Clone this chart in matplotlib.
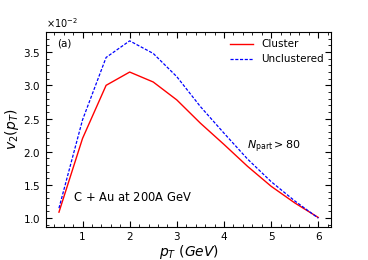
import matplotlib
matplotlib.use("Agg")
import matplotlib.pyplot as plt
from matplotlib.ticker import MultipleLocator, ScalarFormatter

pt = [0.5, 1.0, 1.5, 2.0, 2.5, 3.0, 3.5, 4.0, 4.5, 5.0, 5.5, 6.0]
v2_cluster = [1.09, 2.20, 3.00, 3.20, 3.05, 2.78, 2.43, 2.11, 1.78, 1.48, 1.23, 1.01]
v2_uncl = [1.15, 2.48, 3.42, 3.67, 3.48, 3.13, 2.68, 2.28, 1.89, 1.55, 1.26, 1.00]
scale = 1e-2

fig = plt.figure(figsize=(3.68, 2.60), dpi=100)
ax = fig.add_axes([0.125, 0.127, 0.775, 0.750])
ax.plot(pt, [v * scale for v in v2_cluster], color="red", lw=1.0, label="Cluster")
ax.plot(pt, [v * scale for v in v2_uncl], color="blue", lw=0.9, ls=(0, (2.5, 1.3)), label="Unclustered")

ax.xaxis.set_major_locator(MultipleLocator(1))
ax.xaxis.set_minor_locator(MultipleLocator(0.2))
ax.yaxis.set_major_locator(MultipleLocator(0.005))
ax.yaxis.set_minor_locator(MultipleLocator(0.001))
fmt = ScalarFormatter(useMathText=True)
fmt.set_powerlimits((-2, -2))
ax.yaxis.set_major_formatter(fmt)
ax.yaxis.get_offset_text().set_fontsize(7)
ax.tick_params(which="both", direction="in", top=True, right=True, labelsize=7.5)
ax.tick_params(which="major", length=4, width=0.8)
ax.tick_params(which="minor", length=2, width=0.6)
for s in ax.spines.values():
    s.set_linewidth(0.8)

ax.set_xlabel(r"$p_T\ (GeV)$", fontsize=10, labelpad=1)
ax.set_ylabel(r"$v_2(p_T)$", fontsize=10, labelpad=2)
ax.legend(loc="upper right", frameon=False, fontsize=7.5, handlelength=2.2,
          borderaxespad=0.3, labelspacing=0.5)
ax.text(0.04, 0.94, "(a)", transform=ax.transAxes, fontsize=7.5, va="center")
ax.text(0.705, 0.41, r"$N_{\rm part} > 80$", transform=ax.transAxes, fontsize=8, va="center")
ax.text(0.095, 0.15, r"C$\,+\,$Au at 200A GeV", transform=ax.transAxes, fontsize=8.3, va="center")

fig.savefig("out.png", dpi=100)
